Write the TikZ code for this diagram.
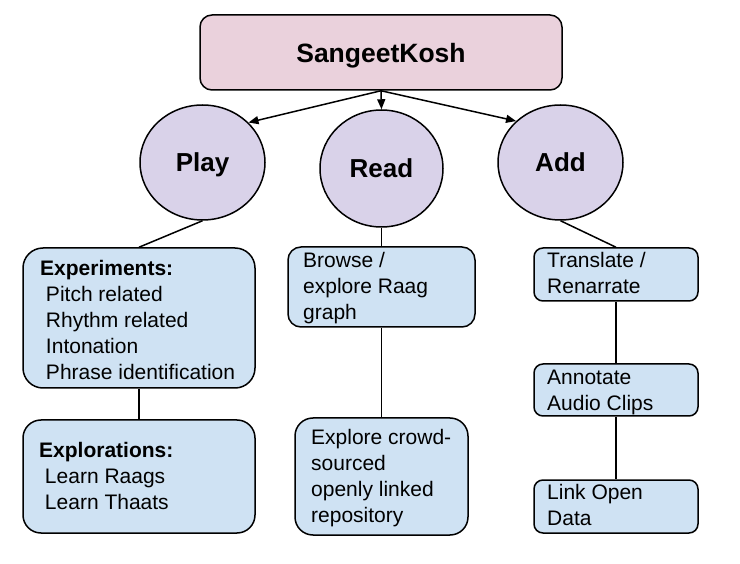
\documentclass[tikz,border=0pt]{standalone}
\usepackage{fontspec}
\setmainfont{Liberation Sans}
\usetikzlibrary{shapes.geometric,arrows.meta}
\definecolor{pinkc}{HTML}{EAD1DC}
\definecolor{purpc}{HTML}{D9D2E9}
\definecolor{bluec}{HTML}{CFE2F3}
\newcommand{\ind}{\hspace*{5.8pt}}
\begin{document}
\begin{tikzpicture}[x=1pt,y=-1pt,
  conn/.style={draw=black, line width=1.5pt},
  arr/.style={conn, -{Triangle[length=10pt,width=8pt]}},
  topbox/.style={draw=black, line width=1.5pt, fill=pinkc, rounded corners=12pt,
     minimum width=362pt, minimum height=75pt, inner sep=0pt, text depth=0pt,
     font=\fontsize{26.5}{30}\selectfont\bfseries},
  circ/.style={ellipse, draw=black, line width=1.5pt, fill=purpc, minimum width=125pt,
     minimum height=115pt, inner sep=0pt, text depth=0pt,
     font=\fontsize{26}{30}\selectfont\bfseries},
  bbox/.style={draw=black, line width=1.5pt, fill=bluec, inner sep=0pt},
  txt/.style={align=left, inner sep=0pt, anchor=west,
     font=\fontsize{21}{26}\selectfont}
]
\useasboundingbox (0,0) rectangle (740,564);

% top
\node[topbox] (top) at (381,52.5) {SangeetKosh};

% circles
\node[circ] (play) at (202.5,162.5) {Play};
\node[circ, minimum width=123pt, minimum height=117pt] (read) at (381.5,168.5) {Read};
\node[circ] (add) at (560.5,162.5) {Add};

% boxes
\node[bbox, minimum width=232pt, minimum height=140pt, rounded corners=20pt] (exp) at (139,318) {};
\node[bbox, minimum width=232pt, minimum height=113pt, rounded corners=18pt] (expl) at (139,476.5) {};
\node[bbox, minimum width=187pt, minimum height=80pt, rounded corners=13pt] (browse) at (381.5,287) {};
\node[bbox, minimum width=173pt, minimum height=117pt, rounded corners=18pt] (explore) at (381.5,476.5) {};
\node[bbox, minimum width=164pt, minimum height=53pt, rounded corners=9pt] (tr) at (616,274.5) {};
\node[bbox, minimum width=164pt, minimum height=52pt, rounded corners=9pt] (ann) at (616,390) {};
\node[bbox, minimum width=164pt, minimum height=53pt, rounded corners=9pt] (link) at (616,506.5) {};

% texts
\node[txt] (expt) at (40,319.5) {\textbf{Experiments:}\\\ind Pitch related\\\ind Rhythm related\\\ind Intonation\\\ind Phrase identification};
\node[txt] (explt) at (39,476.4) {\textbf{Explorations:}\\\ind Learn Raags\\\ind Learn Thaats};
\node[txt] (browset) at (303,288.5) {Browse /\\explore Raag\\graph};
\node[txt] (exploret) at (311,478.5) {Explore crowd-\\sourced\\openly linked\\repository};
\node[txt] (trt) at (547,273.3) {Translate /\\Renarrate};
\node[txt] (annt) at (547,392.5) {Annotate\\Audio Clips};
\node[txt] (linkt) at (547,505.3) {Link Open\\Data};

% connectors
\draw[arr] (top.south) -- (play.41);
\draw[arr] (top.south) -- (read.north);
\draw[arr] (top.south) -- (add.137);
\draw[conn] (play.south) -- (exp.north);
\draw[conn] (read.south) -- (browse.north);
\draw[conn] (add.south) -- (tr.north);
\draw[conn] (exp.south) -- (expl.north);
\draw[conn] (browse.south) -- (explore.north);
\draw[conn] (tr.south) -- (ann.north);
\draw[conn] (ann.south) -- (link.north);
\end{tikzpicture}
\end{document}
